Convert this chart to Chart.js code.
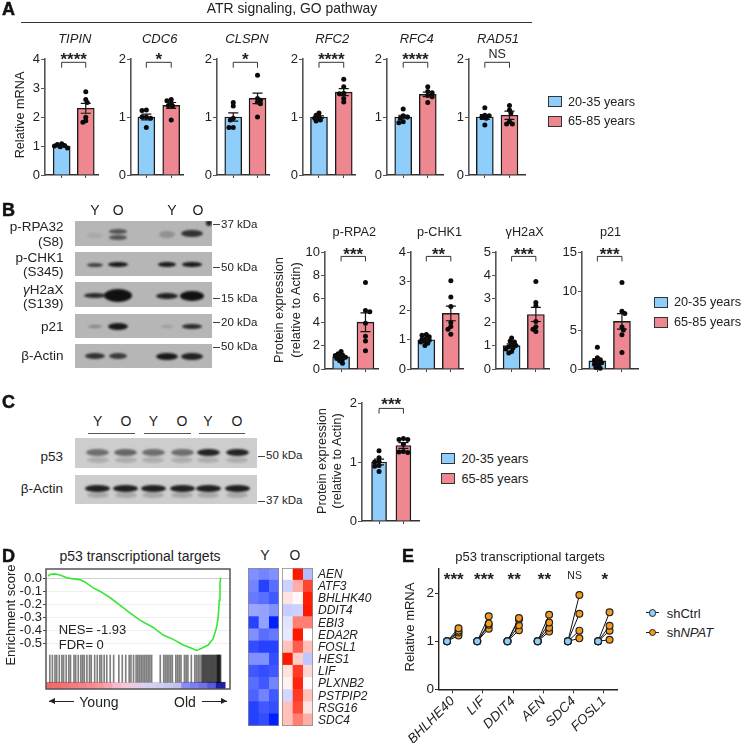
<!DOCTYPE html>
<html lang="en">

<head>
    <meta charset="UTF-8" />
    <title>ATR signaling figure</title>
    <script src="https://cdn.jsdelivr.net/npm/chart.js"></script>
    <style>
        html, body { margin: 0; background: #fff; }
        #fig { position: relative; width: 745px; height: 749px; overflow: hidden; font-family: "Liberation Sans", Arial, sans-serif; color: #222; }
        #fig canvas { position: absolute; }
        .txt { position: absolute; white-space: nowrap; line-height: 1; }
        .box { position: absolute; }
        .band { position: absolute; border-radius: 50%; background: #111; filter: blur(1.2px); }
        .blot { position: absolute; overflow: hidden; }
    </style>
</head>

<body>
    <div id="fig"></div>

    <script>
        // ---- panel A data ----
        const aGenes = ["TIPIN", "CDC6", "CLSPN", "RFC2", "RFC4", "RAD51"];
        const aMax = [4, 2, 2, 2, 2, 2];
        const aMeans = [[1.0, 2.3], [1.0, 1.2], [1.0, 1.32], [1.0, 1.43], [1.0, 1.39], [1.0, 1.03]];
        const aSems = [[0.03, 0.17], [0.05, 0.05], [0.07, 0.09], [0.02, 0.06], [0.03, 0.04], [0.04, 0.07]];
        const aYoung = [
            [1.08, 1.05, 1.02, 1.0, 0.97, 0.93],
            [1.12, 1.11, 1.0, 1.0, 0.98, 0.82],
            [1.25, 1.19, 0.98, 0.95, 0.82, 0.82],
            [1.07, 1.03, 1.0, 0.98, 0.95, 0.93],
            [1.14, 1.02, 1.0, 0.98, 0.92, 0.9],
            [1.16, 1.03, 1.02, 1.0, 0.98, 0.86]
        ];
        const aOld = [
            [2.87, 2.6, 2.5, 1.99, 1.87, 1.82],
            [1.3, 1.28, 1.24, 1.2, 1.19, 0.95],
            [1.72, 1.32, 1.29, 1.26, 1.23, 1.0],
            [1.65, 1.52, 1.41, 1.4, 1.32, 1.26],
            [1.52, 1.44, 1.42, 1.37, 1.35, 1.25],
            [1.2, 1.12, 1.07, 0.92, 0.88, 0.88]
        ];
        const aSig = ["****", "*", "*", "****", "****", "NS"];

        // ---- panel B data ----
        const bTargets = ["p-RPA2", "p-CHK1", "γH2aX", "p21"];
        const bMax = [10, 4, 5, 15];
        const bTicks = [[0, 2, 4, 6, 8, 10], [0, 1, 2, 3, 4], [0, 1, 2, 3, 4, 5], [0, 5, 10, 15]];
        const bMeans = [[1.05, 4.0], [1.0, 1.9], [1.0, 2.33], [1.05, 6.1]];
        const bSems = [[0.1, 0.8], [0.04, 0.25], [0.07, 0.3], [0.25, 1.0]];
        const bYoung = [
            [1.5, 1.3, 1.2, 1.15, 1.05, 1.0, 0.9, 0.85, 0.7, 0.5],
            [1.18, 1.15, 1.1, 1.05, 1.02, 0.98, 0.95, 0.92, 0.88, 0.8],
            [1.33, 1.2, 1.15, 1.05, 1.0, 0.95, 0.9, 0.85, 0.75, 0.68],
            [2.8, 1.45, 1.2, 1.1, 0.9, 0.8, 0.6, 0.5, 0.2, 0.1]
        ];
        const bOld = [
            [7.4, 5.0, 4.9, 3.9, 2.8, 2.4, 1.55],
            [3.02, 2.46, 2.14, 1.59, 1.45, 1.36, 1.19],
            [3.74, 2.84, 2.7, 2.03, 1.81, 1.7, 1.6],
            [11.1, 7.4, 7.1, 5.4, 5.0, 4.4, 2.1]
        ];
        const bSig = ["***", "**", "***", "***"];

        // ---- panel C data ----
        const cMeans = [1.0, 1.28];
        const cSems = [0.05, 0.05];
        const cYoung = [1.19, 1.07, 1.01, 0.94, 0.93, 0.84, 1.0];
        const cOld = [1.4, 1.38, 1.38, 1.3, 1.18, 1.17, 1.16];

        // ---- panel D data ----
        const esRank = [0, 1, 3.9, 6.8, 10.6, 13.5, 18.4, 21.3, 26.1, 30, 35.8, 41.6, 47.4, 53.2, 60.9, 66.7, 72.5, 78.3, 83.2, 86.1, 89, 92.8, 95.7, 97.7, 98.6, 99.2, 99.6, 100];
        const esScore = [0.018, 0.031, 0.036, 0.028, 0.008, 0, -0.008, -0.026, -0.072, -0.097, -0.146, -0.205, -0.264, -0.321, -0.377, -0.436, -0.469, -0.513, -0.538, -0.554, -0.538, -0.513, -0.462, -0.372, -0.295, -0.167, -0.038, 0.008];
        const esTicks = [0, -0.1, -0.2, -0.3, -0.4, -0.5];
        const hitRanks = [1, 2.5, 4, 5, 6.5, 8, 9, 10.5, 12, 13, 15, 16, 17.5, 19, 20, 21, 22.5, 24, 25, 27, 28.5, 30, 31, 32.5, 34, 36, 38, 41, 43, 45, 47, 48, 49.5, 51, 52, 53, 54, 55, 56, 57, 58, 59, 60, 65, 67, 68, 69, 70, 71, 72, 74, 75, 76, 77, 79, 80, 81, 83, 85, 86, 87, 88, 89, 89.5, 90, 90.5, 91, 91.5, 92, 92.5, 93, 93.5, 94, 94.5, 95, 95.5, 96, 96.5, 97, 97.5, 98, 98.2, 98.5, 98.8, 99, 99.3, 99.6, 100];
        const stripColors = ["#f06a6a", "#f06e70", "#f17577", "#f27c80", "#f38488", "#f38d92", "#f4969c", "#f5a5b0", "#f5bccd", "#f4c6dc", "#eccbe4", "#dcd0ee", "#d4d0f0", "#cfcdf0", "#c9c6f0", "#c2c0f0", "#8d8cf2", "#7f80f0", "#7272e6", "#5a5ada", "#20209e"];

        // ---- heatmap data ----
        const heatGenes = ["AEN", "ATF3", "BHLHK40", "DDIT4", "EBI3", "EDA2R", "FOSL1", "HES1", "LIF", "PLXNB2", "PSTPIP2", "RSG16", "SDC4"];
        const heatYoung = [[-0.5, -0.55, -0.5], [-0.55, -0.85, -0.65], [-0.6, -0.65, -0.75], [-0.4, -0.42, -0.5], [-0.85, -0.42, -1], [-0.5, -0.65, -0.6], [-0.8, -0.85, -0.85], [-0.5, -0.5, -0.8], [-0.75, -0.8, -0.75], [-0.65, -0.75, -0.55], [-0.7, -0.55, -0.75], [-0.85, -0.75, -0.8], [-0.85, -0.8, -1]];
        const heatOld = [[0, 1, -0.3], [-0.2, 0.35, 0.8], [0.12, 0.03, 0.98], [-0.22, -0.2, 1], [-0.12, 0.55, 0.55], [-0.1, 1, 0], [0.27, 0.7, 0.28], [1, 0.22, -0.25], [0.13, 0.85, 0.18], [0.05, 0.95, 0.02], [-0.18, 0.85, 0.27], [0.27, 0.78, 0.12], [0.27, 0.55, 0.35]];

        // ---- panel E data ----
        const eGenes = ["BHLHE40", "LIF", "DDIT4", "AEN", "SDC4", "FOSL1"];
        const eCtrl = 1;
        const eNpat = [[1.27, 1.22, 1.18, 1.12], [1.52, 1.37, 1.34, 1.26], [1.48, 1.45, 1.33, 1.23], [1.55, 1.39, 1.28, 1.2], [1.96, 1.57, 1.22, 1.06], [1.6, 1.32, 1.22, 1.03]];
        const eSig = ["***", "***", "**", "**", "NS", "*"];
        const eTicks = [0, 1, 2];

        const BLUE = "#8fcdfb", PINK = "#ee878f", ORANGE = "#f59a1e";
        const fig = document.getElementById("fig");

        Chart.defaults.font.family = '"Liberation Sans", Arial, sans-serif';
        Chart.defaults.color = "#222";
        Chart.defaults.animation = false;

        function label(html, x, y, o = {}) {
            const d = document.createElement("div");
            d.className = "txt";
            d.innerHTML = html;
            const tx = o.align === "left" ? "0" : o.align === "right" ? "-100%" : "-50%";
            d.style.left = x + "px";
            d.style.top = y + "px";
            d.style.fontSize = (o.size || 13) + "px";
            d.style.transform = `translate(${tx},-50%)` + (o.rotate ? ` rotate(${o.rotate}deg)` : "");
            if (o.italic) d.style.fontStyle = "italic";
            if (o.bold) d.style.fontWeight = "bold";
            if (o.color) d.style.color = o.color;
            fig.appendChild(d);
            return d;
        }

        function rect(x, y, w, h, style) {
            const d = document.createElement("div");
            d.className = "box";
            Object.assign(d.style, { left: x + "px", top: y + "px", width: w + "px", height: h + "px" }, style);
            fig.appendChild(d);
            return d;
        }

        function addCanvas(left, top, w, h) {
            const c = document.createElement("canvas");
            c.width = w;
            c.height = h;
            c.style.left = left + "px";
            c.style.top = top + "px";
            c.style.width = w + "px";
            c.style.height = h + "px";
            fig.appendChild(c);
            return c;
        }

        // keep the plot area where the layout says, tick labels may stick out
        function fixSize(s, w, h) {
            if (w !== null) s.width = w;
            if (h !== null) s.height = h;
            s.paddingTop = s.paddingBottom = s.paddingLeft = s.paddingRight = 0;
        }

        // spread dots sideways so they do not sit on top of each other (pixels)
        function swarm(vals, pxPerUnit, r) {
            const placed = [];
            const d = r * 1.3;
            [...vals].sort((a, b) => b - a).forEach((v, i) => {
                const side = i % 2 ? -1 : 1;
                for (let k = 0; k < 40; k++) {
                    const off = side * (k % 2 ? (k + 1) / 2 : -k / 2) * 1.5;
                    const ok = placed.every(p => Math.hypot(p.off - off, (p.v - v) * pxPerUnit) >= d);
                    if (ok) { placed.push({ v, off }); break; }
                }
            });
            return placed;
        }

        function drawSig(ctx, txt, x, y, nsSize) {
            ctx.fillStyle = "#222";
            ctx.textAlign = "center";
            if (txt === "NS") {
                ctx.font = nsSize + 'px "Liberation Sans"';
                ctx.textBaseline = "middle";
                ctx.fillText(txt, x, y);
            } else {
                ctx.font = 'bold 17px "Liberation Sans"';
                ctx.textBaseline = "alphabetic";
                ctx.fillText(txt, x, y + 9.7);
            }
        }

        // one small bar chart with dots, error bars and the bracket on top
        function barPanel(p) {
            const yw = 34, topPad = 20, botPad = 8;
            const h = p.y0 - p.yTop;
            const c = addCanvas(p.axis - yw, p.yTop - topPad, Math.round(p.end - p.axis + yw + 2), Math.round(h + topPad + botPad));
            const u = p.t2 - p.t1;
            const pxPerUnit = h / p.max;
            const dots = (vals, g) => swarm(vals, pxPerUnit, 2.5).map(s => ({ x: g + s.off / u, y: s.v }));

            const marks = {
                id: "marks",
                afterDatasetsDraw(chart) {
                    const ctx = chart.ctx, sx = chart.scales.x, sy = chart.scales.y;
                    ctx.save();
                    ctx.strokeStyle = "#111";
                    ctx.lineWidth = 1.2;
                    [1, 2].forEach((g, i) => {
                        const x = sx.getPixelForValue(g);
                        const a = sy.getPixelForValue(p.means[i] - p.sems[i]);
                        const b = sy.getPixelForValue(p.means[i] + p.sems[i]);
                        ctx.beginPath();
                        ctx.moveTo(x, a); ctx.lineTo(x, b);
                        ctx.moveTo(x - 5, a); ctx.lineTo(x + 5, a);
                        ctx.moveTo(x - 5, b); ctx.lineTo(x + 5, b);
                        ctx.stroke();
                    });
                    const top = sy.top, xa = sx.getPixelForValue(1), xb = sx.getPixelForValue(2);
                    ctx.strokeStyle = "#333";
                    ctx.lineWidth = 1;
                    ctx.beginPath();
                    ctx.moveTo(xa, top + p.legEnd);
                    ctx.lineTo(xa, top + p.brTop);
                    ctx.lineTo(xb, top + p.brTop);
                    ctx.lineTo(xb, top + p.legEnd);
                    ctx.stroke();
                    drawSig(ctx, p.sig, (xa + xb) / 2, top + p.sigY, 12.5);
                    ctx.restore();
                }
            };

            new Chart(c, {
                type: "bar",
                data: {
                    datasets: [
                        { type: "scatter", data: dots(p.young, 1).concat(dots(p.old, 2)), backgroundColor: "#0a0a0a", pointRadius: 2.5, pointBorderWidth: 0, order: 1, clip: false },
                        { type: "bar", data: p.means.map((m, i) => ({ x: i + 1, y: m })), backgroundColor: [BLUE, PINK], borderColor: "#1a1a1a", borderWidth: 1.4, barThickness: p.barW || 17, grouped: false, order: 2 }
                    ]
                },
                options: {
                    responsive: false,
                    layout: { padding: { top: topPad, right: 2, left: 0, bottom: 0 } },
                    plugins: { legend: { display: false }, tooltip: { enabled: false } },
                    scales: {
                        x: {
                            type: "linear",
                            offset: false,
                            min: 1 - (p.t1 - p.axis) / u,
                            max: 1 + (p.end - p.t1) / u,
                            afterBuildTicks: s => { s.ticks = [{ value: 1 }, { value: 2 }]; },
                            afterFit: s => fixSize(s, null, botPad),
                            ticks: { display: false },
                            grid: { offset: false, drawOnChartArea: false, tickLength: 3, color: "#444" },
                            border: { color: "#333", width: 1.4 }
                        },
                        y: {
                            min: 0,
                            max: p.max,
                            afterBuildTicks: s => { s.ticks = p.ticks.map(v => ({ value: v })); },
                            afterFit: s => fixSize(s, yw, null),
                            ticks: { font: { size: 13 }, padding: 1, color: "#222" },
                            grid: { drawOnChartArea: false, tickLength: 4, color: "#555" },
                            border: { color: "#555", width: 1.6 }
                        }
                    }
                },
                plugins: [marks]
            });
        }

        // ---- panel A ----
        const aGeo = [
            { axis: 45, t1: 62.3, t2: 87.3, end: 100 },
            { axis: 130.7, t1: 146.7, t2: 172.7, end: 185 },
            { axis: 217.3, t1: 234.3, t2: 259.7, end: 271.7 },
            { axis: 302.7, t1: 319.3, t2: 345, end: 356.7 },
            { axis: 387.3, t1: 404, t2: 429.3, end: 445 },
            { axis: 469, t1: 485.3, t2: 510.7, end: 526.7 }
        ];
        aGenes.forEach((g, i) => {
            const geo = aGeo[i];
            barPanel({
                ...geo, yTop: 59, y0: 175, max: aMax[i],
                ticks: aMax[i] === 4 ? [0, 1, 2, 3, 4] : [0, 1, 2],
                means: aMeans[i], sems: aSems[i], young: aYoung[i], old: aOld[i], sig: aSig[i],
                brTop: 3.3, legEnd: 8.7, sigY: -4
            });
            label(g, (geo.t1 + geo.t2) / 2, 37.5, { italic: true, size: 13 });
        });
        label("ATR signaling, GO pathway", 292, 8.5, { size: 13.9 });
        rect(21, 22, 511, 1, { background: "#333" });
        label("Relative mRNA", 20, 115, { rotate: -90, size: 12.7 });

        function legend(x, y1, y2, tx) {
            [[y1, BLUE, "20-35 years"], [y2, PINK, "65-85 years"]].forEach(([y, col, t]) => {
                rect(x, y, 12, 9, { background: col, border: "1.3px solid #333" });
                label(t, tx, y + 5.5, { align: "left", size: 12.7 });
            });
        }
        legend(547.7, 96, 115.7, 568);

        // ---- panel B ----
        const bGeo = [
            { axis: 325, t1: 341.7, t2: 367, end: 380 },
            { axis: 410.7, t1: 426.7, t2: 452.3, end: 465 },
            { axis: 495.7, t1: 512, t2: 537.3, end: 551 },
            { axis: 581.7, t1: 597.7, t2: 623.3, end: 640 }
        ];
        bTargets.forEach((g, i) => {
            const geo = bGeo[i];
            barPanel({
                ...geo, yTop: 252.3, y0: 369, max: bMax[i], ticks: bTicks[i],
                means: bMeans[i], sems: bSems[i], young: bYoung[i], old: bOld[i], sig: bSig[i],
                brTop: 4.4, legEnd: 9.4, sigY: -1.3
            });
            label(g, (geo.t1 + geo.t2) / 2, 231.7, { size: 12.7 });
        });
        label("Protein expression", 279.3, 310, { rotate: -90, size: 12.8 });
        label("(relative to Actin)", 295.7, 310, { rotate: -90, size: 12.8 });
        legend(654, 296.7, 316.7, 674);

        // ---- blots ----
        function blot(x, y, w, h, bg, bands) {
            const b = document.createElement("div");
            b.className = "blot";
            Object.assign(b.style, { left: x + "px", top: y + "px", width: w + "px", height: h + "px", background: bg });
            bands.forEach(([cx, cy, bw, bh, alpha]) => {
                const e = document.createElement("div");
                e.className = "band";
                Object.assign(e.style, { left: (cx - bw / 2 - x) + "px", top: (cy - bh / 2 - y) + "px", width: bw + "px", height: bh + "px", opacity: alpha });
                b.appendChild(e);
            });
            fig.appendChild(b);
        }
        function kda(t, x, y) {
            rect(x, y, 6.5, 1, { background: "#444" });
            label(t, x + 8, y + 0.5, { align: "left", size: 11.5 });
        }

        const L1 = 95, L2 = 118.3, L3 = 166.7, L4 = 191.7;
        blot(74.7, 221, 137.3, 24.7, "#b6b6b6", [[L1, 235, 16, 5, 0.08], [L2, 231, 18, 5, 0.6], [L2, 237.3, 18, 5, 0.6], [L3, 234.3, 16, 7, 0.22], [L4, 233.3, 22, 7, 0.8], [209, 223, 6, 6, 0.9]]);
        blot(74.7, 251.7, 137.3, 24.6, "#b6b6b6", [[L1, 264.7, 16, 4, 0.7], [L2, 264.7, 20, 5, 0.95], [L3, 264.7, 18, 5, 0.95], [L4, 264.7, 20, 5.5, 0.95]]);
        blot(74.7, 282.3, 137.3, 24.7, "#b6b6b6", [[L1, 296, 22, 5, 0.85], [L2, 296, 28, 13, 1], [L3, 296, 22, 6, 0.9], [L4, 296, 24, 10, 1]]);
        blot(74.7, 313.7, 137.3, 24.6, "#b6b6b6", [[L1, 326.7, 14, 3.5, 0.3], [L2, 326.7, 20, 7, 0.95], [L3, 326.7, 12, 3, 0.15], [L4, 326.7, 20, 5, 0.85]]);
        blot(74.7, 343.7, 137.3, 24.6, "#b6b6b6", [[L1, 356.3, 20, 6, 0.8], [L2, 356.3, 18, 6, 0.75], [L3, 356.3, 22, 7, 0.95], [L4, 356.3, 22, 7, 0.9]]);
        [[95, "Y"], [118.3, "O"], [172, "Y"], [198, "O"]].forEach(([x, t]) => label(t, x, 210, { size: 14 }));
        [["p-RPA32", 227], ["(S8)", 242], ["p-CHK1", 258], ["(S345)", 271.7], ["<i>γ</i>H2aX", 289.7], ["(S139)", 304], ["p21", 327], ["β-Actin", 355.7]]
            .forEach(([t, y]) => label(t, 63.5, y, { align: "right", size: 13.5 }));
        kda("37 kDa", 213, 224);
        kda("50 kDa", 213, 267);
        kda("15 kDa", 213, 298);
        kda("20 kDa", 213, 322);
        kda("50 kDa", 213, 346.5);

        const cLanes = [97.6, 125.9, 153.4, 182, 208, 237];
        const cAlpha = [0.5, 0.55, 0.5, 0.5, 0.9, 0.9];
        blot(74.5, 438.4, 182.5, 30, "#cdcdcd", cLanes.map((x, i) => [x, 453, 23, 7, cAlpha[i]]).concat(cLanes.map((x, i) => [x, 460, 22, 6, 0.16])));
        blot(74.5, 474.7, 182.5, 29.3, "#cdcdcd", cLanes.map(x => [x, 488.4, 25, 7, 0.92]).concat(cLanes.map(x => [x, 495, 22, 6, 0.2])));
        cLanes.forEach((x, i) => label(i % 2 ? "O" : "Y", x, 420.5, { size: 14 }));
        rect(88, 433, 46.5, 1, { background: "#555" });
        rect(144, 433, 47.4, 1, { background: "#555" });
        rect(199.3, 433, 46.2, 1, { background: "#555" });
        label("p53", 63, 456.7, { align: "right", size: 13.5 });
        label("β-Actin", 63, 489, { align: "right", size: 13.5 });
        kda("50 kDa", 258, 455.5);
        kda("37 kDa", 258, 500.5);

        // ---- panel C ----
        barPanel({
            axis: 361.5, t1: 379, t2: 404, end: 420, yTop: 403, y0: 521, max: 2, ticks: [0, 1, 2], barW: 15,
            means: cMeans, sems: cSems, young: cYoung, old: cOld, sig: "***",
            brTop: 5.4, legEnd: 10.6, sigY: -3
        });
        label("Protein expression", 322.4, 461, { rotate: -90, size: 12.8 });
        label("(relative to Actin)", 337, 461, { rotate: -90, size: 12.8 });
        legend(441.4, 453, 473, 461.4);

        // ---- panel D ----
        const frame = color => ({
            id: "frame",
            afterDatasetsDraw(chart) {
                const a = chart.chartArea, ctx = chart.ctx;
                ctx.save();
                ctx.strokeStyle = color;
                ctx.lineWidth = 1.5;
                ctx.strokeRect(a.left, a.top, a.right - a.left, a.bottom - a.top);
                ctx.restore();
            }
        });
        const gsea = addCanvas(12, 568, 219, 122);
        new Chart(gsea, {
            type: "bar",
            data: {
                datasets: [
                    { type: "line", data: esRank.map((r, i) => ({ x: r, y: esScore[i] })), borderColor: "#36e636", borderWidth: 1.6, pointRadius: 0, tension: 0, order: 1 },
                    { type: "bar", data: hitRanks.map(r => ({ x: r, y: [-0.8, -0.59] })), backgroundColor: "rgba(0,0,0,0.5)", barThickness: 1, grouped: false, order: 2 },
                    { type: "bar", data: stripColors.map((col, i) => ({ x: i * 5, y: [-0.85, -0.8] })), backgroundColor: stripColors, barThickness: 9, grouped: false, order: 3 }
                ]
            },
            options: {
                responsive: false,
                layout: { padding: { top: 1, right: 1, left: 0, bottom: 1 } },
                plugins: { legend: { display: false }, tooltip: { enabled: false } },
                scales: {
                    x: {
                        type: "linear", display: false, offset: false, min: -1.2, max: 105.4,
                        afterFit: s => fixSize(s, null, 0)
                    },
                    y: {
                        min: -0.852,
                        max: 0.074,
                        afterBuildTicks: s => { s.ticks = esTicks.map(v => ({ value: v })); },
                        afterFit: s => fixSize(s, 34, null),
                        ticks: { font: { size: 13 }, padding: 1, color: "#222", callback: v => v === 0 ? "0.0" : v.toFixed(1) },
                        grid: { color: ctx => ctx.tick && ctx.tick.value === 0 ? "#cfcfcf" : "#efefef", tickColor: "#444", tickLength: 3 },
                        border: { display: false }
                    }
                }
            },
            plugins: [frame("#555")]
        });
        label("p53 transcriptional targets", 140, 556, { size: 14 });
        label("Enrichment score", 10, 615, { rotate: -90, size: 13 });
        label("NES= -1.93", 58.7, 628.7, { align: "left", size: 13 });
        label("FDR= 0", 58.7, 644, { align: "left", size: 13 });
        label("Young", 79.3, 701.5, { align: "left", size: 14 });
        label("Old", 174, 701.5, { align: "left", size: 14 });
        function arrow(x1, x2, y, dir) {
            rect(x1, y, x2 - x1, 1, { background: "#222" });
            const tip = dir < 0 ? x1 : x2 - 6;
            rect(tip, y - 3, 0, 0, dir < 0
                ? { borderTop: "3.5px solid transparent", borderBottom: "3.5px solid transparent", borderRight: "6px solid #222" }
                : { borderTop: "3.5px solid transparent", borderBottom: "3.5px solid transparent", borderLeft: "6px solid #222" });
        }
        arrow(49, 74, 701, -1);
        arrow(201.7, 226.7, 701, 1);

        // ---- heatmap ----
        function heatColor(v) {
            const a = Math.abs(v);
            const to = v < 0 ? [0, 32, 255] : [255, 24, 0];
            return `rgb(${to.map(c => Math.round(255 + (c - 255) * a)).join(",")})`;
        }
        function heatmap(left, w, rows) {
            const c = addCanvas(left, 568, w, 158);
            new Chart(c, {
                type: "bar",
                data: {
                    labels: heatGenes,
                    datasets: [0, 1, 2].map(col => ({
                        data: rows.map(() => 1),
                        backgroundColor: rows.map(r => heatColor(r[col])),
                        barPercentage: 1,
                        categoryPercentage: 1,
                        borderWidth: 0
                    }))
                },
                options: {
                    indexAxis: "y",
                    responsive: false,
                    plugins: { legend: { display: false }, tooltip: { enabled: false } },
                    scales: {
                        x: { stacked: true, display: false, min: 0, max: 3 },
                        y: { stacked: true, display: false }
                    }
                },
                plugins: [frame("#8a8a8a")]
            });
        }
        heatmap(248, 31, heatYoung);
        heatmap(282, 31, heatOld);
        heatGenes.forEach((g, i) => label(g, 318, 574 + i * 12.15, { align: "left", italic: true, size: 12 }));
        label("Y", 265, 555, { size: 14 });
        label("O", 295, 555, { size: 14 });

        // ---- panel E ----
        const eAxis = 439.3, eEnd = 621, eFirst = 453.3, eStep = 30.7, eTop = 569.3, eZero = 689.7;
        const eChart = addCanvas(eAxis - 36, eTop - 6, Math.round(eEnd - eAxis + 38), 180);
        const eOff = 0.19;
        const ePairs = [];
        eNpat.forEach((vals, g) => vals.forEach(v => ePairs.push({
            data: [{ x: g + 1 - eOff, y: eCtrl }, { x: g + 1 + eOff, y: v }],
            showLine: true,
            borderColor: "#111",
            borderWidth: 1,
            pointRadius: 3.4,
            pointBorderWidth: 1.2,
            pointBorderColor: "#222",
            pointBackgroundColor: [BLUE, ORANGE]
        })));
        const eSigAt = 2.36;
        new Chart(eChart, {
            type: "scatter",
            data: { datasets: ePairs },
            options: {
                responsive: false,
                layout: { padding: { top: 6, right: 2, left: 0, bottom: 0 } },
                plugins: { legend: { display: false }, tooltip: { enabled: false } },
                scales: {
                    x: {
                        type: "linear",
                        min: 1 - (eFirst - eAxis) / eStep,
                        max: 1 + (eEnd - eFirst) / eStep,
                        afterBuildTicks: s => { s.ticks = eGenes.map((g, i) => ({ value: i + 1 })); },
                        afterFit: s => fixSize(s, null, 180 - 6 - (eZero - eTop)),
                        ticks: { autoSkip: false, minRotation: 45, maxRotation: 45, font: { size: 13.5, style: "italic" }, padding: 0, color: "#222", callback: v => eGenes[v - 1] },
                        grid: { drawOnChartArea: false, tickLength: 4, color: "#333" },
                        border: { color: "#222", width: 1.4 }
                    },
                    y: {
                        min: 0,
                        max: 2.5,
                        afterBuildTicks: s => { s.ticks = eTicks.map(v => ({ value: v })); },
                        afterFit: s => fixSize(s, 36, null),
                        ticks: { font: { size: 13.5 }, padding: 1, color: "#222" },
                        grid: { drawOnChartArea: false, tickLength: 4, color: "#333" },
                        border: { color: "#222", width: 1.4 }
                    }
                }
            },
            plugins: [{
                id: "eStars",
                afterDatasetsDraw(chart) {
                    const sx = chart.scales.x, sy = chart.scales.y;
                    chart.ctx.save();
                    eSig.forEach((s, i) => drawSig(chart.ctx, s, sx.getPixelForValue(i + 1) + 1, sy.getPixelForValue(eSigAt), 10.5));
                    chart.ctx.restore();
                }
            }]
        });
        label("p53 transcriptional targets", 530, 556, { size: 13 });
        label("Relative mRNA", 409, 627, { rotate: -90, size: 13 });
        [[612.7, BLUE, "shCtrl"], [632.3, ORANGE, "sh<i>NPAT</i>"]].forEach(([y, col, t]) => {
            rect(645.7, y - 0.5, 13.5, 1, { background: "#222" });
            rect(648.6, y - 3.7, 5.6, 5.6, { background: col, border: "1.2px solid #222", borderRadius: "50%" });
            label(t, 666.7, y, { align: "left", size: 13 });
        });

        // ---- panel letters ----
        [["A", 2, 9], ["B", 2, 210], ["C", 2, 402], ["D", 2, 556], ["E", 402, 556]]
            .forEach(([t, x, y]) => { const l = label(t, x, y, { align: "left", size: 18, bold: true, color: "#111" }); l.style.webkitTextStroke = "0.5px #111"; });
    </script>
</body>
</html>
